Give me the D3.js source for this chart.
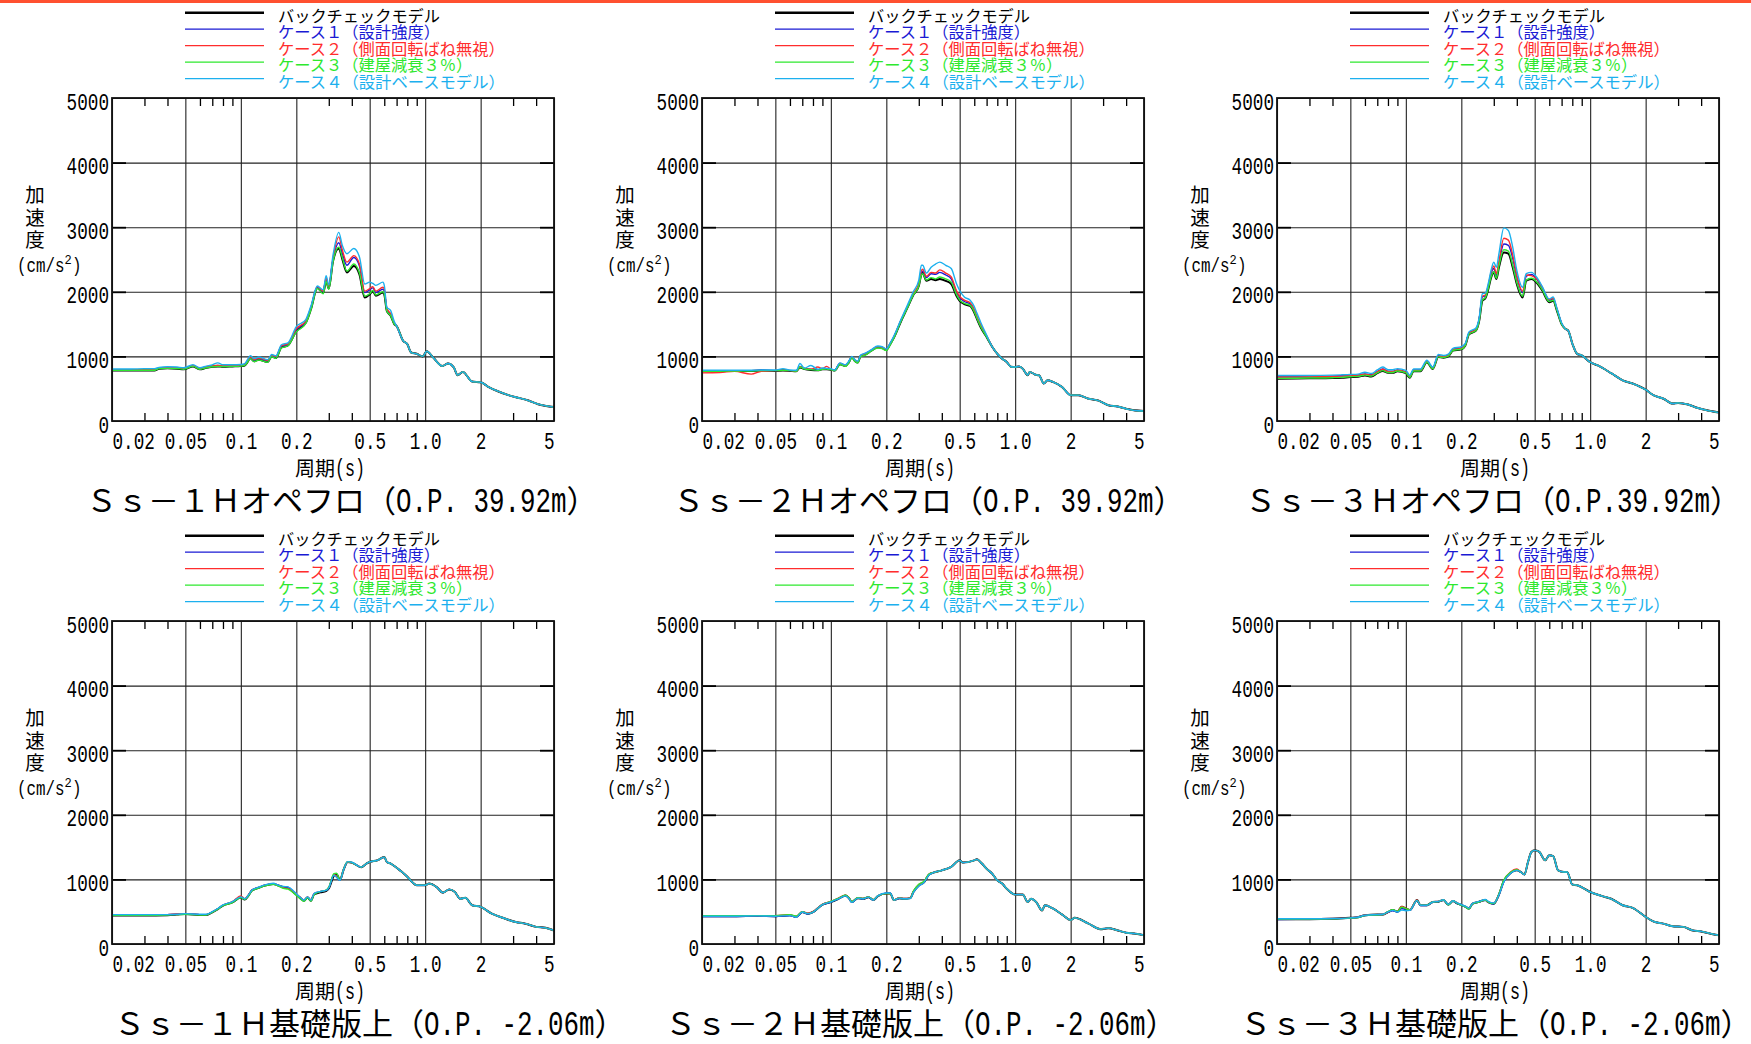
<!DOCTYPE html>
<html>
<head>
<meta charset="utf-8">
<script src="https://cdn.jsdelivr.net/npm/d3@7"></script>
<style>
  body { margin: 0; background: #fff; }
  svg { display: block; }
</style>
</head>
<body>
<div id="chart"></div>
<script>
// Acceleration response spectra, 6 panels x 5 analysis cases

const caseNames = ["バックチェックモデル", "ケース１（設計強度）", "ケース２（側面回転ばね無視）", "ケース３（建屋減衰３％）", "ケース４（設計ベースモデル）"];
const caseColors = ["#000000", "#1a1ad4", "#ff2d2d", "#2ee82e", "#1cb0ee"];
const caseWidths = [2, 1.4, 1.4, 1.4, 1.4];

const panelTitles = [
  "Ｓｓ－１Ｈオペフロ（O.P. 39.92m）",
  "Ｓｓ－２Ｈオペフロ（O.P. 39.92m）",
  "Ｓｓ－３Ｈオペフロ（O.P.39.92m）",
  "Ｓｓ－１Ｈ基礎版上（O.P. -2.06m）",
  "Ｓｓ－２Ｈ基礎版上（O.P. -2.06m）",
  "Ｓｓ－３Ｈ基礎版上（O.P. -2.06m）"
];

const yTicks = [0, 1000, 2000, 3000, 4000, 5000];
const xMajor = [0.02, 0.05, 0.1, 0.2, 0.5, 1, 2, 5];
const xMajorLabels = ["0.02", "0.05", "0.1", "0.2", "0.5", "1.0", "2", "5"];
const xMinor = [0.03, 0.04, 0.06, 0.07, 0.08, 0.09, 0.3, 0.4, 0.6, 0.7, 0.8, 0.9, 3, 4];

// ---- Ss-1H operating floor ----
const p1HeadT = [0.02,0.025,0.03,0.034,0.036,0.04,0.045,0.049,0.055,0.06,0.065,0.07,0.075,0.08,0.09,0.1,0.105,0.113,0.118,0.125,0.14,0.147,0.155,0.166,0.18,0.2,0.225,0.24,0.26,0.28,0.29,0.3,0.316,0.34,0.355,0.376,0.41,0.44,0.47,0.5,0.52,0.54,0.59,0.6,0.62,0.65,0.68];
const p1Back  = [780,780,780,780,810,815,810,800,845,800,825,840,845,840,845,850,860,970,925,950,915,1000,975,1140,1170,1390,1520,1730,2060,1980,2170,2050,2470,2670,2510,2300,2400,2270,1910,1960,2010,1940,1990,1960,1700,1630,1500];
const p1Case1 = [790,790,790,795,815,825,820,810,855,810,835,850,860,855,855,860,870,985,940,965,930,1010,990,1155,1180,1410,1540,1750,2070,2000,2200,2070,2490,2760,2600,2410,2530,2400,1990,2030,2060,1990,2040,2010,1720,1650,1510];
const p1Case2 = [790,790,795,795,820,830,825,815,860,815,840,855,860,855,860,865,875,990,950,975,940,1020,1000,1165,1195,1430,1550,1760,2080,2010,2210,2090,2510,2850,2650,2460,2560,2430,2010,2050,2080,2010,2070,2040,1740,1660,1520];
const p1Case3 = [785,785,785,785,810,815,812,802,845,800,825,840,845,842,845,850,860,965,920,945,910,995,970,1130,1165,1380,1510,1720,2050,1970,2160,2040,2460,2690,2530,2320,2430,2290,1930,1970,2020,1950,2000,1970,1700,1630,1500];
const p1Case4 = [805,805,810,810,830,840,835,825,870,825,850,870,900,870,870,875,890,1010,965,990,950,1030,1010,1180,1210,1460,1570,1780,2090,2030,2250,2110,2560,2920,2720,2590,2670,2540,2120,2150,2130,2100,2150,2100,1760,1710,1540];
const p1TailT = [0.7,0.76,0.8,0.84,0.9,0.97,1.02,1.1,1.24,1.33,1.43,1.5,1.6,1.8,2.0,2.2,2.46,2.83,3.3,3.6,4.1,5.0];
const p1Tail  = [1470,1240,1190,1060,1040,1000,1080,990,850,890,830,710,760,610,600,530,465,400,350,320,260,215];

// ---- Ss-2H operating floor ----
const p2HeadT = [0.02,0.025,0.03,0.037,0.042,0.05,0.055,0.06,0.065,0.068,0.072,0.078,0.085,0.09,0.095,0.1,0.105,0.112,0.12,0.125,0.13,0.135,0.14,0.145,0.155,0.165,0.18,0.19,0.2,0.21,0.22,0.24,0.26,0.28,0.3,0.31,0.315,0.33,0.35,0.37,0.39,0.42,0.45,0.48,0.5,0.53,0.57,0.6,0.62,0.65,0.7];
const p2Back  = [770,770,775,775,780,775,780,775,770,830,805,790,785,800,800,795,780,880,850,905,985,930,905,1005,1035,1085,1140,1130,1100,1190,1290,1540,1750,1950,2090,2270,2290,2170,2200,2180,2200,2170,2120,1940,1860,1810,1780,1680,1580,1450,1300];
const p2Case1 = [780,780,780,780,785,780,790,780,775,845,810,800,790,810,810,800,785,890,860,910,990,940,915,1010,1045,1090,1150,1140,1110,1200,1300,1550,1760,1960,2110,2300,2320,2220,2280,2270,2300,2260,2200,2000,1910,1850,1810,1710,1600,1470,1310];
const p2Case2 = [745,750,770,725,770,780,785,780,775,840,815,800,835,810,845,800,785,890,860,910,990,940,915,1010,1045,1095,1150,1140,1110,1200,1305,1560,1770,1970,2120,2330,2350,2240,2300,2290,2340,2290,2230,2020,1930,1870,1830,1730,1620,1490,1320];
const p2Case3 = [770,770,775,775,780,780,785,780,770,835,805,795,785,800,805,795,780,875,845,900,975,925,900,995,1025,1080,1130,1120,1090,1180,1285,1540,1750,1950,2090,2260,2280,2180,2220,2200,2230,2200,2150,1960,1870,1820,1790,1690,1590,1460,1300];
const p2Case4 = [785,785,785,785,790,790,810,790,785,890,820,860,800,820,815,810,790,900,870,925,1000,950,925,1020,1055,1100,1160,1150,1115,1210,1320,1570,1790,2000,2180,2410,2410,2290,2380,2430,2460,2410,2360,2130,2020,1920,1870,1770,1670,1530,1330];
const p2TailT = [0.75,0.8,0.85,0.9,0.95,1.0,1.05,1.1,1.17,1.2,1.28,1.35,1.43,1.5,1.6,1.8,2.0,2.2,2.5,2.8,3.2,3.6,4.0,4.4,5.0];
const p2Tail  = [1150,1040,965,915,840,835,845,810,710,760,720,705,580,630,605,525,400,400,345,320,245,225,190,165,155];

// ---- Ss-3H operating floor ----
const p3HeadT = [0.02,0.03,0.04,0.045,0.05,0.055,0.06,0.065,0.07,0.075,0.08,0.085,0.09,0.1,0.105,0.11,0.12,0.13,0.14,0.15,0.16,0.17,0.18,0.2,0.21,0.22,0.24,0.25,0.26,0.27,0.28,0.29,0.3,0.31,0.32,0.34,0.36,0.38,0.4,0.43,0.45,0.48,0.52,0.55,0.6,0.63,0.66,0.7];
const p3Back  = [655,660,665,670,680,685,705,690,740,775,745,745,770,740,670,770,770,910,805,990,980,1000,1090,1110,1165,1340,1400,1550,1860,1900,2040,2220,2300,2200,2380,2610,2590,2380,2120,1910,2170,2200,2120,2020,1840,1860,1710,1500];
const p3Case1 = [685,690,695,700,705,710,730,715,765,805,770,770,790,760,690,790,790,925,820,1010,1000,1020,1110,1130,1180,1360,1420,1580,1920,1940,2080,2280,2360,2260,2440,2740,2720,2520,2230,1990,2240,2270,2170,2060,1870,1890,1730,1510];
const p3Case2 = [680,685,690,695,700,710,725,710,760,800,765,765,785,755,685,785,785,920,815,1005,995,1015,1105,1125,1175,1355,1415,1575,1930,1950,2100,2300,2400,2280,2470,2830,2800,2570,2250,2010,2260,2250,2180,2070,1880,1900,1740,1510];
const p3Case3 = [660,665,670,675,685,690,710,695,745,780,750,750,775,745,675,775,775,912,808,992,982,1003,1092,1112,1168,1342,1402,1552,1870,1910,2050,2230,2310,2210,2400,2650,2630,2410,2140,1930,2180,2210,2130,2030,1850,1870,1715,1500];
const p3Case4 = [705,705,710,715,720,725,755,735,790,835,795,795,810,785,710,805,805,940,835,1030,1015,1035,1125,1150,1200,1380,1440,1600,1970,1980,2130,2330,2460,2380,2590,2990,2950,2690,2330,2070,2280,2300,2200,2080,1890,1920,1750,1520];
const p3TailT = [0.73,0.76,0.8,0.85,0.9,1.0,1.1,1.3,1.5,1.7,2.0,2.2,2.5,2.8,3.0,3.4,3.8,4.3,5.0];
const p3Tail  = [1430,1400,1200,1040,1015,910,860,740,630,580,485,400,345,270,280,255,205,165,130];

// ---- Ss-1H base slab ----
const p4HeadT = [0.02,0.03,0.04,0.045,0.05,0.06,0.065,0.07,0.075,0.08,0.09,0.1,0.105,0.11,0.115,0.125,0.135,0.15,0.16,0.17,0.18,0.195,0.21,0.22,0.23,0.24,0.25,0.27,0.29,0.3,0.32,0.33,0.345,0.36,0.38,0.4];
const p4Back  = [440,440,445,455,465,450,450,490,540,595,645,720,690,750,830,870,905,930,905,880,870,790,710,670,720,670,770,800,820,860,1060,1085,990,1140,1270,1260];
const p4Case1 = [450,450,455,460,470,455,455,495,545,600,650,730,695,755,835,875,910,935,905,885,880,800,720,675,725,675,780,810,830,870,1070,1040,985,1140,1270,1260];
const p4Case2 = [450,450,455,465,470,455,455,495,545,600,655,745,700,760,835,875,910,935,900,870,860,800,725,680,730,680,780,815,830,875,1075,1050,990,1145,1270,1260];
const p4Case3 = [445,445,450,455,460,450,450,490,540,595,640,720,690,745,825,865,900,925,895,860,850,780,700,660,715,665,765,810,835,880,1090,1095,995,1145,1275,1260];
const p4Case4 = [455,455,455,460,470,460,460,500,550,605,655,730,700,760,835,880,915,940,910,890,885,810,725,680,730,680,785,815,830,870,1065,1035,985,1140,1275,1265];
const p4TailT = [0.45,0.48,0.5,0.55,0.6,0.62,0.65,0.7,0.75,0.8,0.85,0.9,1.0,1.05,1.15,1.25,1.35,1.45,1.55,1.65,1.8,2.0,2.3,2.7,3.1,3.5,4.0,4.5,5.0];
const p4Tail  = [1190,1245,1270,1295,1345,1270,1245,1180,1115,1040,960,910,910,935,885,795,845,805,700,715,600,575,470,395,340,315,265,250,210];

// ---- Ss-2H base slab ----
const p5HeadT = [0.02,0.03,0.04,0.05,0.06,0.065,0.07,0.075,0.08,0.09,0.1,0.11,0.12,0.125,0.13,0.14,0.15,0.16,0.17,0.18,0.2,0.21,0.22,0.235,0.25,0.27,0.28,0.3,0.32,0.34];
const p5Back  = [430,430,435,430,445,420,495,470,495,610,650,700,750,715,650,710,700,725,680,740,780,780,680,710,700,710,800,905,955,1070];
const p5Case1 = [425,425,430,425,440,415,490,465,490,605,650,700,745,710,645,710,700,725,680,745,785,785,675,705,700,710,805,905,960,1075];
const p5Case2 = [440,440,440,440,450,425,500,475,500,615,660,710,755,720,655,715,705,730,685,745,780,780,680,715,705,715,810,920,965,1080];
const p5Case3 = [440,440,440,440,455,430,500,470,495,610,660,705,755,720,655,715,705,730,685,745,780,780,680,710,700,710,815,925,970,1080];
const p5Case4 = [430,430,435,430,440,415,495,470,495,610,650,700,745,710,645,710,700,725,680,745,790,790,680,710,700,705,795,895,950,1065];
const p5TailT = [0.36,0.4,0.45,0.5,0.52,0.6,0.62,0.66,0.7,0.75,0.8,0.85,0.9,1.0,1.1,1.17,1.22,1.3,1.4,1.45,1.6,1.8,2.0,2.1,2.5,2.9,3.2,3.6,4.0,4.5,5.0];
const p5Tail  = [1105,1140,1195,1295,1260,1295,1310,1245,1165,1090,985,935,855,765,765,650,700,650,520,600,550,455,370,405,315,230,245,210,175,160,135];

// ---- Ss-3H base slab ----
const p6HeadT = [0.02,0.03,0.04,0.05,0.055,0.06,0.07,0.075,0.08,0.085,0.09,0.095,0.1,0.105,0.115,0.12,0.13,0.14,0.15,0.16,0.17,0.18,0.19,0.2,0.21,0.22,0.23,0.25,0.27,0.28,0.3,0.32,0.34,0.37,0.4];
const p6Back  = [385,385,390,405,415,445,455,455,495,525,500,575,550,525,680,600,600,650,655,680,610,665,630,605,580,550,625,655,680,650,625,765,975,1100,1140];
const p6Case1 = [380,385,390,400,415,440,450,455,490,515,495,550,530,520,670,595,595,645,650,675,605,660,625,600,575,545,620,650,675,645,620,760,965,1100,1145];
const p6Case2 = [390,390,395,405,415,445,455,455,495,525,505,580,555,530,680,600,600,650,660,680,610,665,635,605,580,550,625,655,680,650,630,770,980,1115,1160];
const p6Case3 = [385,385,390,400,410,440,450,455,500,530,505,570,550,525,675,600,600,650,655,680,605,665,630,600,575,540,620,650,680,650,625,775,990,1110,1150];
const p6Case4 = [390,390,395,405,415,445,455,460,495,520,495,525,515,520,675,600,600,650,660,685,615,670,635,610,585,555,630,660,690,660,635,760,960,1095,1140];
const p6TailT = [0.42,0.44,0.46,0.48,0.5,0.53,0.57,0.6,0.63,0.67,0.72,0.75,0.8,0.85,1.0,1.15,1.3,1.5,1.7,2.0,2.2,2.5,2.8,3.2,3.6,4.0,4.5,5.0];
const p6Tail  = [1115,1075,1270,1425,1450,1425,1295,1375,1360,1140,1115,1115,920,910,805,745,700,600,560,420,350,315,275,265,210,195,160,135];

const panels = [
  {title: panelTitles[0], headT: p1HeadT, tailT: p1TailT, heads: [p1Back, p1Case1, p1Case2, p1Case3, p1Case4], tail: p1Tail},
  {title: panelTitles[1], headT: p2HeadT, tailT: p2TailT, heads: [p2Back, p2Case1, p2Case2, p2Case3, p2Case4], tail: p2Tail},
  {title: panelTitles[2], headT: p3HeadT, tailT: p3TailT, heads: [p3Back, p3Case1, p3Case2, p3Case3, p3Case4], tail: p3Tail},
  {title: panelTitles[3], headT: p4HeadT, tailT: p4TailT, heads: [p4Back, p4Case1, p4Case2, p4Case3, p4Case4], tail: p4Tail},
  {title: panelTitles[4], headT: p5HeadT, tailT: p5TailT, heads: [p5Back, p5Case1, p5Case2, p5Case3, p5Case4], tail: p5Tail},
  {title: panelTitles[5], headT: p6HeadT, tailT: p6TailT, heads: [p6Back, p6Case1, p6Case2, p6Case3, p6Case4], tail: p6Tail}
];

// layout
const width = 1751, height = 1044;
const colLeft = [112, 702, 1277];
const rowTop = [98, 621];
const plotW = 442, plotH = 323;
const titleInkX = [[89, 676, 1248], [117, 668, 1243]];
const titleBase = [512, 1035];

const CJK = '"Noto Sans CJK JP", "Noto Sans CJK SC", sans-serif';
const MONO = '"Liberation Mono", "DejaVu Sans Mono", monospace';

const svg = d3.select("#chart").append("svg")
  .attr("width", width)
  .attr("height", height);

svg.append("rect").attr("width", width).attr("height", height).attr("fill", "#fff");
svg.append("rect").attr("width", width).attr("height", 3).attr("fill", "#ff5030");

// text made of full-width (1em) and half-width (0.5em) runs, like a Japanese gothic font
// half-width runs use a taller mono face squeezed to half a cell
function mixedText(parent, str, x, y, fs, fill, anchor) {
  const runs = [];
  for (const ch of str) {
    const wide = ch.charCodeAt(0) > 0xff;
    const last = runs[runs.length - 1];
    if (last && last.wide === wide) last.text += ch;
    else runs.push({wide: wide, text: ch});
  }
  let total = 0;
  runs.forEach(r => { r.w = [...r.text].length * fs * (r.wide ? 1 : 0.5); total += r.w; });
  let cx = anchor === "middle" ? x - total / 2 : x;
  const t = parent.append("text")
    .attr("y", y)
    .attr("font-size", fs)
    .attr("fill", fill)
    .attr("xml:space", "preserve");
  runs.forEach(r => {
    t.append("tspan")
      .attr("x", cx)
      .attr("font-family", r.wide ? CJK : MONO)
      .attr("font-size", r.wide ? fs : fs * 1.15)
      .attr("textLength", r.w)
      .attr("lengthAdjust", "spacingAndGlyphs")
      .text(r.text);
    cx += r.w;
  });
  return t;
}

panels.forEach((p, idx) => {
  const row = Math.floor(idx / 3), col = idx % 3;
  const left = colLeft[col], top = rowTop[row];
  const g = svg.append("g");

  const x = d3.scaleLog().domain([0.02, 5]).range([left, left + plotW]);
  const y = d3.scaleLinear().domain([0, 5000]).range([top + plotH, top]);

  // horizontal grid + y labels
  const yAxis = g.append("g")
    .attr("transform", `translate(${left},0)`)
    .call(d3.axisLeft(y).tickValues(yTicks).tickSize(-plotW).tickPadding(3).tickFormat(d3.format("d")));
  yAxis.select(".domain").remove();
  yAxis.selectAll("line").attr("stroke", "#222").attr("stroke-width", 1.1);
  yAxis.selectAll("text")
    .attr("font-family", MONO)
    .attr("font-size", 23)
    .attr("fill", "#000")
    .attr("dy", null)
    .attr("y", 11)
    .attr("textLength", d => String(d).length * 10.6)
    .attr("lengthAdjust", "spacingAndGlyphs");

  // short y ticks on both edges
  [d3.axisLeft(y), d3.axisRight(y)].forEach((ax, k) => {
    const a = g.append("g")
      .attr("transform", `translate(${k === 0 ? left : left + plotW},0)`)
      .call(ax.tickValues(yTicks.slice(1, 5)).tickSize(-14).tickFormat(""));
    a.select(".domain").remove();
    a.selectAll("line").attr("stroke", "#000").attr("stroke-width", 1.8);
  });

  // vertical grid + x labels
  const xAxis = g.append("g")
    .attr("transform", `translate(0,${top + plotH})`)
    .call(d3.axisBottom(x).tickValues(xMajor).tickSize(-plotH).tickFormat((d, i) => xMajorLabels[i]));
  xAxis.select(".domain").remove();
  xAxis.selectAll("line").attr("stroke", "#222").attr("stroke-width", 1.1);
  xAxis.selectAll("text")
    .attr("font-family", MONO)
    .attr("font-size", 23)
    .attr("fill", "#000")
    .attr("dy", null)
    .attr("y", 28)
    .attr("text-anchor", (d, i) => i === 0 ? "start" : (i === xMajor.length - 1 ? "end" : "middle"))
    .attr("textLength", (d, i) => xMajorLabels[i].length * 10.6)
    .attr("lengthAdjust", "spacingAndGlyphs");

  // minor ticks top and bottom
  [[d3.axisBottom(x), top + plotH], [d3.axisTop(x), top]].forEach(([ax, ty]) => {
    const a = g.append("g")
      .attr("transform", `translate(0,${ty})`)
      .call(ax.tickValues(xMinor).tickSize(-8).tickFormat(""));
    a.select(".domain").remove();
    a.selectAll("line").attr("stroke", "#000").attr("stroke-width", 1.3);
  });

  // curves
  const periods = p.headT.concat(p.tailT);
  const line = d3.line()
    .x(d => x(d[0]))
    .y(d => y(d[1]))
    .curve(d3.curveMonotoneX);
  p.heads.forEach((h, i) => {
    const vals = h.concat(p.tail);
    if (vals.length !== periods.length) console.log("length mismatch", idx, i, vals.length, periods.length);
    const pts = periods.map((t, j) => [t, vals[j]]);
    g.append("path")
      .attr("d", line(pts))
      .attr("fill", "none")
      .attr("stroke", caseColors[i])
      .attr("stroke-width", caseWidths[i])
      .attr("stroke-linejoin", "round");
  });

  // frame
  g.append("rect")
    .attr("x", left).attr("y", top)
    .attr("width", plotW).attr("height", plotH)
    .attr("fill", "none")
    .attr("stroke", "#111")
    .attr("stroke-width", 1.8);

  // legend
  caseNames.forEach((name, i) => {
    const ly = top - 85.3 + i * 16.5;
    g.append("line")
      .attr("x1", left + 73).attr("x2", left + 152)
      .attr("y1", ly).attr("y2", ly)
      .attr("stroke", caseColors[i])
      .attr("stroke-width", i === 0 ? 2.6 : 1.3);
    mixedText(g, name, left + 166, ly + 9, 16.2, caseColors[i]);
  });

  // y axis title
  const yt = g.append("text")
    .attr("font-family", CJK)
    .attr("font-size", 19.5)
    .attr("text-anchor", "middle")
    .attr("fill", "#000");
  ["加", "速", "度"].forEach((c, i) => {
    yt.append("tspan").attr("x", left - 77).attr("y", top + 104 + i * 22.5).text(c);
  });
  const ut = g.append("text")
    .attr("y", top + 174)
    .attr("font-family", MONO)
    .attr("font-size", 21)
    .attr("fill", "#000");
  ut.append("tspan").attr("x", left - 95).attr("textLength", 47.5).attr("lengthAdjust", "spacingAndGlyphs").text("(cm/s");
  ut.append("tspan").attr("x", left - 47.5).attr("dy", -8).attr("font-size", 12).text("2");
  ut.append("tspan").attr("x", left - 40).attr("dy", 8).attr("textLength", 9.5).attr("lengthAdjust", "spacingAndGlyphs").text(")");

  // x axis title
  mixedText(g, "周期(s)", left + 218, top + plotH + 55, 20, "#000", "middle");

  // panel title
  mixedText(g, p.title, titleInkX[row][col] - 3, titleBase[row], 31, "#000");
});
</script>
</body>
</html>
